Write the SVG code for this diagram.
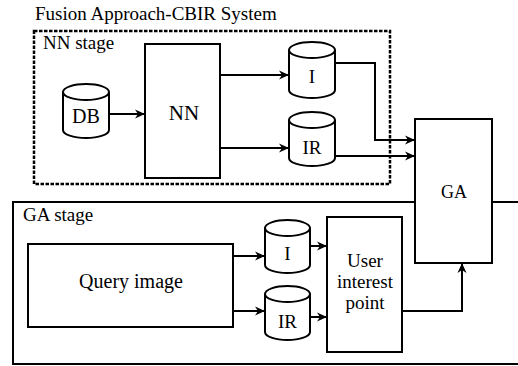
<svg xmlns="http://www.w3.org/2000/svg" width="518" height="366" viewBox="0 0 518 366" font-family="'Liberation Serif', 'Times New Roman', serif">
<defs>
<marker id="ah" markerUnits="userSpaceOnUse" markerWidth="10" markerHeight="10" refX="10" refY="5" orient="auto">
<path d="M0,0.5 L10,5 L0,9.5 L3,5 Z" fill="#000"/>
</marker>
</defs>
<style>
text{font-family:'Liberation Serif','Times New Roman',serif;fill:#000}
.box{fill:#fff;stroke:#000;stroke-width:2}
.cyl{fill:#fff;stroke:#000;stroke-width:2}
.c{text-anchor:middle}
.ar{fill:none;stroke:#000;stroke-width:2;marker-end:url(#ah)}
</style>
<rect width="518" height="366" fill="#fff"/>
<text x="35" y="20" font-size="19">Fusion Approach-CBIR System</text>
<g id="nn-stage">
<rect x="34" y="31" width="356" height="153" fill="none" stroke="#000" stroke-width="2.5" stroke-dasharray="3.5,1.5"/>
<text x="43" y="49" font-size="19">NN stage</text>
</g>
<g id="ga-stage">
<rect x="13" y="202" width="530" height="162" fill="none" stroke="#000" stroke-width="2"/>
<text x="23" y="221" font-size="19">GA stage</text>
</g>
<g id="db">
<path class="cyl" d="M63,92 L63,130 A23,8 0 0 0 109,130 L109,92"/>
<ellipse class="cyl" cx="86" cy="92" rx="23" ry="8"/>
<text class="c" x="86" y="123" font-size="20">DB</text>
</g>
<g id="nn">
<rect class="box" x="145" y="44" width="75" height="134"/>
<text class="c" x="184" y="120" font-size="21">NN</text>
</g>
<g id="i-top">
<path class="cyl" d="M289,50 L289,90 A23,8 0 0 0 335,90 L335,50"/>
<ellipse class="cyl" cx="312" cy="50" rx="23" ry="8"/>
<text class="c" x="312" y="83" font-size="19">I</text>
</g>
<g id="ir-top">
<path class="cyl" d="M289,120 L289,158 A23,8 0 0 0 335,158 L335,120"/>
<ellipse class="cyl" cx="312" cy="120" rx="23" ry="8"/>
<text class="c" x="312" y="154" font-size="19">IR</text>
</g>
<g id="query">
<rect class="box" x="28" y="244" width="205" height="83"/>
<text class="c" x="131" y="288" font-size="20">Query image</text>
</g>
<g id="i-bottom">
<path class="cyl" d="M265,228 L265,265 A22.5,8 0 0 0 310,265 L310,228"/>
<ellipse class="cyl" cx="287.5" cy="228" rx="22.5" ry="8"/>
<text class="c" x="287.5" y="260" font-size="19">I</text>
</g>
<g id="ir-bottom">
<path class="cyl" d="M265,294 L265,332 A22.5,8 0 0 0 310,332 L310,294"/>
<ellipse class="cyl" cx="287.5" cy="294" rx="22.5" ry="8"/>
<text class="c" x="287.5" y="328" font-size="19">IR</text>
</g>
<g id="user">
<rect class="box" x="327" y="217" width="75" height="135"/>
<text class="c" x="365" y="267" font-size="19">User</text>
<text class="c" x="365" y="288" font-size="19">interest</text>
<text class="c" x="365" y="309" font-size="19">point</text>
</g>
<g id="ga">
<rect class="box" x="415" y="119" width="77" height="144"/>
<text class="c" x="454" y="198" font-size="18">GA</text>
</g>
<g id="connectors">
<path class="ar" d="M109,114 L145,114"/>
<path class="ar" d="M220,75 L289,75"/>
<path class="ar" d="M220,148 L289,148"/>
<path class="ar" d="M335,63 L375,63 L375,140 L415,140"/>
<path class="ar" d="M335,156 L415,156"/>
<path class="ar" d="M233,256 L265,256"/>
<path class="ar" d="M233,311 L265,311"/>
<path class="ar" d="M310,246 L327,246"/>
<path class="ar" d="M310,317 L327,317"/>
<path class="ar" d="M402,311 L462,311 L462,263"/>
</g>
</svg>
